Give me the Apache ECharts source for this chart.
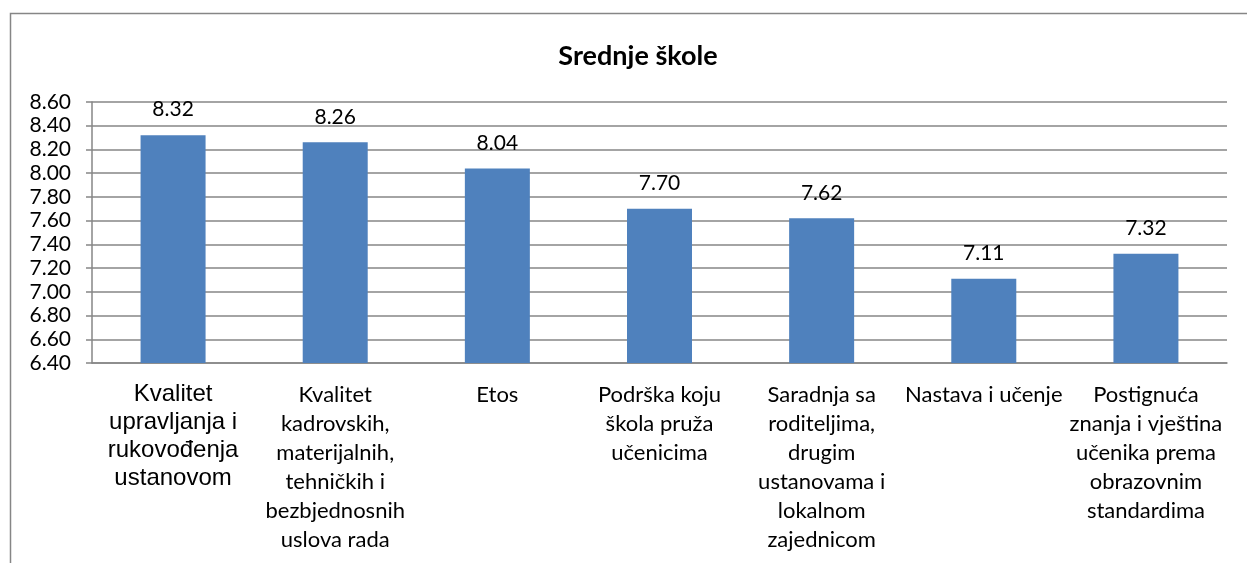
<!DOCTYPE html>
<html>
<head>
<meta charset="utf-8">
<script src="https://cdn.jsdelivr.net/npm/echarts@6/dist/echarts.min.js"></script>
<style>
  html, body { margin: 0; padding: 0; background: #fff; }
  #chart { width: 1247px; height: 563px; }
</style>
</head>
<body>
<div id="chart"></div>
<script>
const chartTitle = "Srednje škole";
const categories = [
  "Kvalitet\nupravljanja i\nrukovođenja\nustanovom",
  "Kvalitet\nkadrovskih,\nmaterijalnih,\ntehničkih i\nbezbjednosnih\nuslova rada",
  "Etos",
  "Podrška koju\nškola pruža\nučenicima",
  "Saradnja sa\nroditeljima,\ndrugim\nustanovama i\nlokalnom\nzajednicom",
  "Nastava i učenje",
  "Postignuća\nznanja i vještina\nučenika prema\nobrazovnim\nstandardima"
];
const values = [8.32, 8.26, 8.04, 7.70, 7.62, 7.11, 7.32];
const yMin = 6.4;
const yMax = 8.6;
const yStep = 0.2;

function showChart() {
  const chartDom = document.getElementById("chart");
  const myChart = echarts.init(chartDom);
  const option = {
    animation: false,
    title: {
      text: chartTitle,
      left: 633,
      top: 38,
      textAlign: "center",
      textStyle: {
        fontFamily: "Lato",
        fontWeight: "bold",
        fontSize: 27,
        color: "#000",
      },
    },
    graphic: [
      {
        type: "rect",
        shape: { x: 10.5, y: 13.5, width: 1400, height: 700 },
        style: { fill: "none", stroke: "#868686", lineWidth: 1.5 },
        silent: true,
      },
    ],
    grid: {
      left: 92,
      right: 20,
      top: 102,
      bottom: 200,
    },
    xAxis: {
      type: "category",
      data: categories,
      axisLine: { lineStyle: { color: "#868686", width: 1.5 } },
      axisTick: { length: 8, lineStyle: { color: "#868686", width: 1.5 } },
      axisLabel: {
        interval: 0,
        margin: 17,
        color: "#000",
        fontFamily: "Lato",
        fontSize: 22,
        lineHeight: 29,
        formatter: function (value, index) {
          if (index === 0) {
            return value.split("\n").map((s) => "{a|" + s + "}").join("\n");
          }
          return value;
        },
        rich: {
          a: {
            fontFamily: "Liberation Sans",
            fontSize: 24,
            lineHeight: 28,
            color: "#000",
          },
        },
      },
    },
    yAxis: {
      type: "value",
      min: yMin,
      max: yMax,
      interval: yStep,
      axisLine: { show: true, lineStyle: { color: "#868686", width: 1.5 } },
      axisTick: { show: true, length: 6, lineStyle: { color: "#868686", width: 1.5 } },
      splitLine: { lineStyle: { color: "#868686", width: 1.5 } },
      axisLabel: {
        margin: 21,
        color: "#000",
        fontFamily: "Lato",
        fontSize: 21,
        formatter: (v) => v.toFixed(2),
      },
    },
    series: [
      {
        type: "bar",
        data: values,
        barWidth: 65,
        itemStyle: {
          color: "#4F81BD",
        },
        label: {
          show: true,
          position: "top",
          distance: 15,
          color: "#000",
          fontFamily: "Lato",
          fontSize: 21,
          formatter: (p) => p.value.toFixed(2),
        },
      },
    ],
  };
  myChart.setOption(option);
  window.addEventListener("resize", () => {
    myChart.resize();
  });
}

showChart();
</script>
</body>
</html>
